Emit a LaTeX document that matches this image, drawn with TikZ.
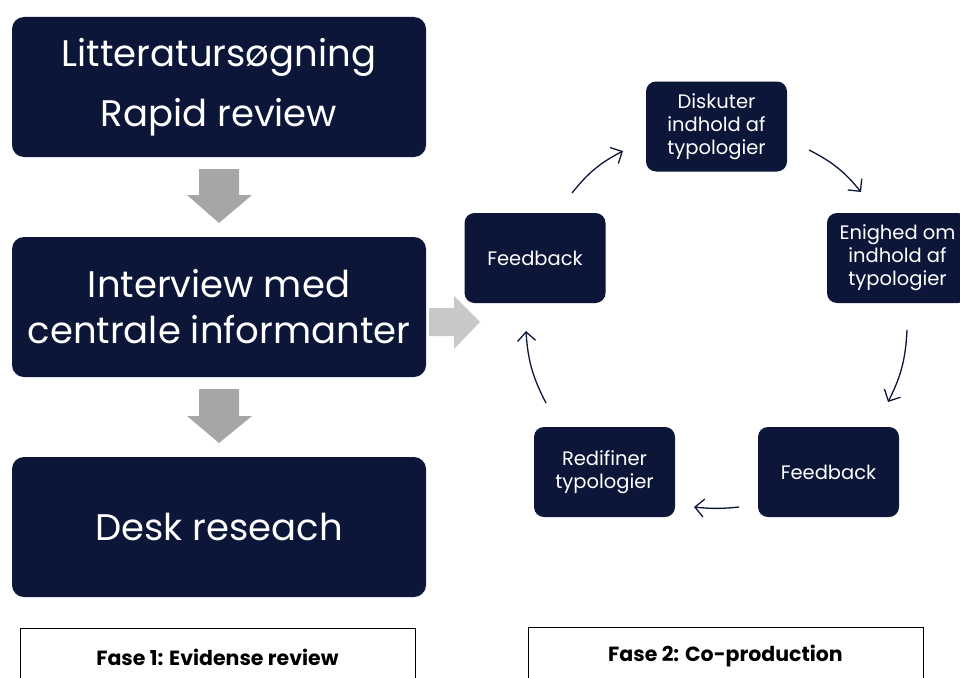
\documentclass[tikz,border=0pt]{standalone}
\usepackage{fontspec}
\setmainfont{Poppins}
\usetikzlibrary{arrows.meta}
\definecolor{navy}{HTML}{0B1638}
\definecolor{garrow}{HTML}{A6A6A8}
\definecolor{larrow}{HTML}{C8C8C8}
\tikzset{
  bigbox/.style={fill=navy, rounded corners=12pt, minimum width=414pt, minimum height=140pt, text=white, font=\fontsize{37}{46}\selectfont, align=center, inner sep=0pt},
  smallbox/.style={fill=navy, rounded corners=10pt, minimum width=141pt, minimum height=90pt, text=white, font=\fontsize{19.5}{23}\selectfont, align=center, inner sep=0pt},
  fasebox/.style={draw=black, line width=0.8pt, minimum width=395pt, minimum height=70pt, inner sep=0pt},
  fasetext/.style={font=\bfseries\fontsize{20.5}{24}\selectfont},
  cyc/.style={draw=navy, line width=1.3pt, -{Straight Barb[length=9pt,width=18pt]}},
}
\begin{document}
\begin{tikzpicture}[x=1pt,y=-1pt]
\useasboundingbox (0,0) rectangle (960,677);
% left column
\node[bigbox, font=\fontsize{37}{60}\selectfont] (b1) at (219,87) {Litteratursøgning\\Rapid review};
\node[bigbox] (b2) at (219,307) {Interview med\\centrale informanter};
\node[bigbox] (b3) at (219,527) {Desk reseach};
% block arrows
\fill[garrow] (199,169) -- (239,169) -- (239,195) -- (252,195) -- (219,223) -- (187,195) -- (199,195) -- cycle;
\fill[garrow] (199,389) -- (239,389) -- (239,416) -- (252,416) -- (219,443) -- (187,416) -- (199,416) -- cycle;
\fill[larrow] (429,308) -- (454,308) -- (454,296) -- (480,322) -- (454,349) -- (454,336) -- (429,336) -- cycle;
% cycle
\node[smallbox] (d) at (716.5,126.5) {Diskuter\\indhold af\\typologier};
\node[smallbox] (fl) at (535,258) {Feedback};
\node[smallbox] (e) at (897.5,258) {Enighed om\\indhold af\\typologier};
\node[smallbox] (fr) at (828.5,472) {Feedback};
\node[smallbox] (r) at (604.5,472) {Redifiner\\typologier};
\coordinate (a1s) at (572,193); \coordinate (a1e) at (623,151);
\coordinate (a2s) at (809,150); \coordinate (a2e) at (861,192);
\coordinate (a3s) at (907,330); \coordinate (a3e) at (888,402);
\coordinate (a4s) at (739,507); \coordinate (a4e) at (694,507);
\coordinate (a5s) at (546,403); \coordinate (a5e) at (526,331);
\draw[cyc] (a1s) to[bend left=12] (a1e);
\draw[cyc] (a2s) to[bend left=12] (a2e);
\draw[cyc] (a3s) to[bend left=12] (a3e);
\draw[cyc] (a4s) to[bend left=6] (a4e);
\draw[cyc] (a5s) to[bend left=12] (a5e);
% phase boxes
\node[fasebox, anchor=north west] (f1) at (20,628) {};
\node[fasebox, anchor=north west] (f2) at (528,627) {};
\node[fasetext] (t1) at (217.5,657) {Fase 1: Evidense review};
\node[fasetext] (t2) at (725.5,656) {Fase 2: Co-production};
\end{tikzpicture}
\end{document}
